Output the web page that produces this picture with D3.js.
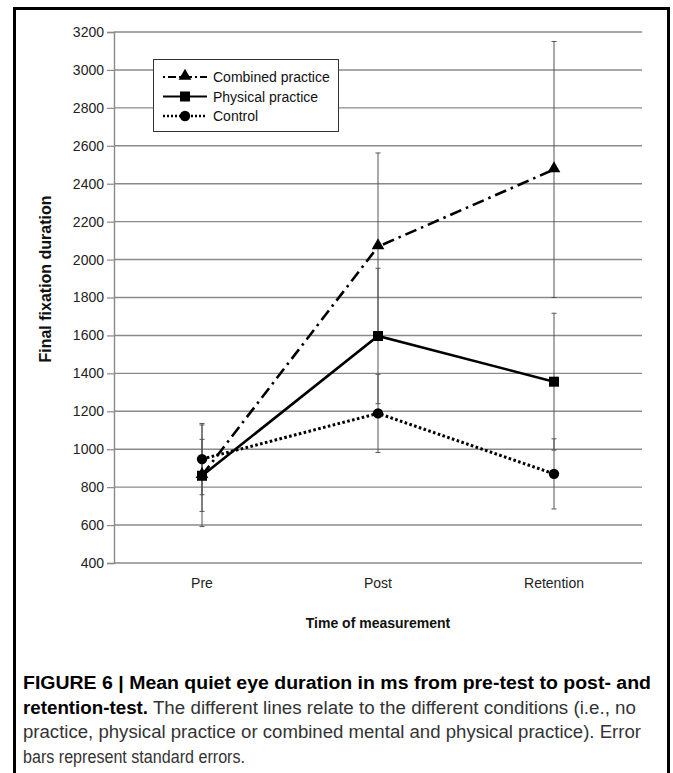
<!DOCTYPE html>
<html>
<head>
<meta charset="utf-8">
<script src="https://cdn.jsdelivr.net/npm/d3@7"></script>
<style>
  body { margin: 0; background: #fff; }
  svg { display: block; font-family: "Liberation Sans", Arial, sans-serif; }
</style>
</head>
<body>
<script>
// chart values
var categories = ["Pre", "Post", "Retention"];
var seriesNames = ["Combined practice", "Physical practice", "Control"];
var combinedMean = [862, 2068, 2475];
var combinedSE = [190, 494, 675];
var physicalMean = [860, 1597, 1356];
var physicalSE = [268, 357, 361];
var controlMean = [948, 1189, 870];
var controlSE = [188, 206, 185];
var yTickValues = [400, 600, 800, 1000, 1200, 1400, 1600, 1800, 2000, 2200, 2400, 2600, 2800, 3000, 3200];
var captionLines = [
  [{t: "FIGURE 6 | Mean quiet eye duration in ms from pre-test to post- and", b: true}],
  [{t: "retention-test.", b: true}, {t: " The different lines relate to the different conditions (i.e., no", b: false}],
  [{t: "practice, physical practice or combined mental and physical practice). Error", b: false}],
  [{t: "bars represent standard errors.", b: false}]
];
var captionWidths = [628, 613, 618, 222];

var width = 673;
var height = 773;
var plotLeft = 114, plotRight = 642, plotTop = 32, plotBottom = 563;

var svg = d3.select("body").append("svg")
    .attr("width", width)
    .attr("height", height);

svg.append("rect").attr("width", width).attr("height", height).attr("fill", "#fff");

// outer frame
svg.append("rect")
    .attr("x", 14.5).attr("y", 8.5)
    .attr("width", 654).attr("height", 820)
    .attr("fill", "none").attr("stroke", "#000").attr("stroke-width", 3);

var x = d3.scaleBand().domain(categories).range([plotLeft, plotRight]);
var y = d3.scaleLinear().domain([400, 3200]).range([plotBottom, plotTop]);

function cx(c) { return x(c) + x.bandwidth() / 2; }

// grid lines
svg.append("g")
  .selectAll("line")
  .data(yTickValues)
  .enter().append("line")
    .attr("x1", plotLeft).attr("x2", plotRight)
    .attr("y1", function(d) { return y(d); })
    .attr("y2", function(d) { return y(d); })
    .attr("stroke", "#8a8a8a")
    .attr("stroke-width", 1.4);

// y axis
var yAxis = svg.append("g")
    .attr("transform", "translate(" + plotLeft + ",0)")
    .call(d3.axisLeft(y).tickValues(yTickValues).tickSize(7).tickPadding(3).tickFormat(d3.format("d")));
yAxis.select(".domain").attr("stroke", "#8a8a8a").attr("stroke-width", 1.4);
yAxis.selectAll(".tick line").attr("stroke", "#8a8a8a").attr("stroke-width", 1.2);
yAxis.selectAll(".tick text").attr("font-size", 14).attr("fill", "#222")
    .attr("font-family", "Liberation Sans, Arial, sans-serif");

// x axis labels
var xAxis = svg.append("g")
    .attr("transform", "translate(0," + plotBottom + ")")
    .call(d3.axisBottom(x).tickSize(0).tickPadding(15));
xAxis.select(".domain").remove();
xAxis.selectAll(".tick text").attr("font-size", 14).attr("fill", "#222")
    .attr("font-family", "Liberation Sans, Arial, sans-serif");

// axis titles
svg.append("text")
    .attr("x", 378).attr("y", 628)
    .attr("text-anchor", "middle")
    .attr("font-size", 14).attr("font-weight", "bold").attr("fill", "#111")
    .text("Time of measurement");

svg.append("text")
    .attr("transform", "translate(51,279) rotate(-90)")
    .attr("text-anchor", "middle")
    .attr("font-size", 16).attr("font-weight", "bold").attr("fill", "#111")
    .text("Final fixation duration");

var series = [
  {name: seriesNames[0], mean: combinedMean, se: combinedSE, dash: "12,5,2.5,5", marker: "triangle"},
  {name: seriesNames[1], mean: physicalMean, se: physicalSE, dash: null, marker: "square"},
  {name: seriesNames[2], mean: controlMean, se: controlSE, dash: "2.6,2.4", marker: "circle"}
];

// error bars
var eb = svg.append("g");
series.forEach(function(s) {
  categories.forEach(function(c, i) {
    var lo = s.mean[i] - s.se[i], hi = s.mean[i] + s.se[i];
    eb.append("line")
        .attr("x1", cx(c)).attr("x2", cx(c))
        .attr("y1", y(lo)).attr("y2", y(hi))
        .attr("stroke", "#555").attr("stroke-width", 1);
    [lo, hi].forEach(function(v) {
      eb.append("line")
          .attr("x1", cx(c) - 2.5).attr("x2", cx(c) + 2.5)
          .attr("y1", y(v)).attr("y2", y(v))
          .attr("stroke", "#555").attr("stroke-width", 1);
    });
  });
});

var line = d3.line()
    .x(function(d, i) { return cx(categories[i]); })
    .y(function(d) { return y(d); });

function drawMarker(g, type, px, py) {
  if (type == "triangle") {
    g.append("path").attr("d", d3.symbol().type(d3.symbolTriangle).size(70)())
        .attr("transform", "translate(" + px + "," + (py - 1) + ")").attr("fill", "#000");
  } else if (type == "square") {
    g.append("rect").attr("x", px - 5).attr("y", py - 5).attr("width", 10).attr("height", 10).attr("fill", "#000");
  } else {
    g.append("circle").attr("cx", px).attr("cy", py).attr("r", 5.2).attr("fill", "#000");
  }
}

var lines = svg.append("g");
series.forEach(function(s) {
  var p = lines.append("path")
      .attr("d", line(s.mean))
      .attr("fill", "none")
      .attr("stroke", "#000")
      .attr("stroke-width", s.marker == "circle" ? 3 : 2.6);
  if (s.dash) p.attr("stroke-dasharray", s.dash);
});
// markers drawn last so control circle and squares sit on top
[series[0], series[2], series[1]].forEach(function(s) {
  s.mean.forEach(function(v, i) {
    drawMarker(lines, s.marker, cx(categories[i]), y(v));
  });
});

// legend
var legend = svg.append("g");
legend.append("rect")
    .attr("x", 153.5).attr("y", 59.5).attr("width", 185).attr("height", 72)
    .attr("fill", "#fff").attr("stroke", "#333").attr("stroke-width", 1);
series.forEach(function(s, i) {
  var ly = 77 + i * 19.5;
  var l = legend.append("line")
      .attr("x1", 163).attr("x2", 207).attr("y1", ly).attr("y2", ly)
      .attr("stroke", "#000").attr("stroke-width", s.marker == "circle" ? 2.4 : 2);
  if (s.dash) l.attr("stroke-dasharray", s.marker == "circle" ? "2,2" : "2,3,8,3");
  drawMarker(legend, s.marker, 185, ly);
  legend.append("text")
      .attr("x", 213).attr("y", ly + 5)
      .attr("font-size", 14).attr("fill", "#111")
      .text(s.name);
});

// caption
var cap = svg.append("g");
captionLines.forEach(function(parts, i) {
  var t = cap.append("text")
      .attr("x", 23).attr("y", 689 + i * 24.5)
      .attr("font-size", 17.5).attr("fill", "#222")
      .attr("textLength", captionWidths[i])
      .attr("lengthAdjust", "spacingAndGlyphs");
  parts.forEach(function(p) {
    t.append("tspan")
        .attr("font-weight", p.b ? "bold" : "normal")
        .attr("fill", p.b ? "#000" : "#333")
        .text(p.t);
  });
});
</script>
</body>
</html>
